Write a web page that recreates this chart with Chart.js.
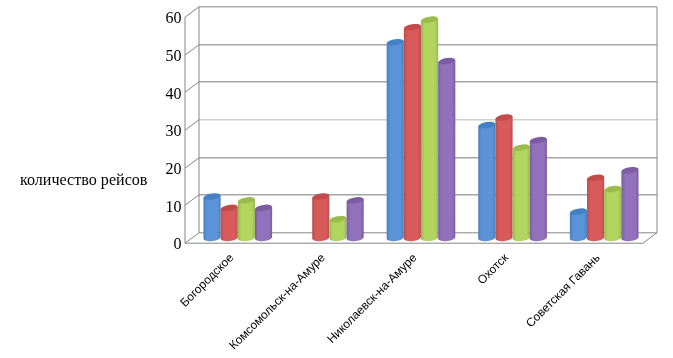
<!DOCTYPE html>
<html>
<head>
<meta charset="utf-8">
<style>
html, body { margin: 0; padding: 0; background: #fff; }
#wrap { width: 673px; height: 358px; }
</style>
<script src="https://cdn.jsdelivr.net/npm/chart.js@4"></script>
</head>
<body>
<div id="wrap"><canvas id="chart" width="673" height="358"></canvas></div>
<script>
const cities = ['Богородское', 'Комсомольск-на-Амуре', 'Николаевск-на-Амуре', 'Охотск', 'Советская Гавань'];
const series1 = [11, null, 52, 30, 7];
const series2 = [8, 11, 56, 32, 16];
const series3 = [10, 5, 58, 24, 13];
const series4 = [8, 10, 47, 26, 18];
const axisTitle = 'количество рейсов';

// body colour, edge colour, cap colour
const blue = ['#5a93d8', '#4a7ebd', '#4480c4'];
const red = ['#d85a5a', '#ba4e4e', '#c24a4a'];
const green = ['#b1d55e', '#98b850', '#9abc4a'];
const purple = ['#9170bc', '#7a5d9e', '#7b5ba2'];

// how far the back wall / front edge sit from the plot area
const dx = 7;
const dy = 5.2;

const walls = {
    id: 'walls',
    beforeDatasetsDraw(chart) {
        const ctx = chart.ctx;
        const y = chart.scales.y;
        const a = chart.chartArea;
        ctx.save();
        ctx.lineWidth = 1;
        y.ticks.forEach(t => {
            const py = Math.round(y.getPixelForValue(t.value));
            // back wall lines
            ctx.strokeStyle = t.value === 0 || t.value === 60 ? '#868686' : '#a6a6a6';
            ctx.lineWidth = t.value === 0 || t.value === 60 ? 1 : 1.6;
            if (t.value === 30) ctx.strokeStyle = '#d0d0d0';
            ctx.beginPath();
            ctx.moveTo(a.left + dx, py - dy);
            ctx.lineTo(a.right + dx, py - dy);
            ctx.stroke();
            // left wall
            ctx.strokeStyle = '#868686';
            ctx.lineWidth = 1;
            ctx.beginPath();
            ctx.moveTo(a.left - dx, py + dy);
            ctx.lineTo(a.left + dx, py - dy);
            ctx.stroke();
        });
        const top = Math.round(y.getPixelForValue(60));
        const zero = Math.round(y.getPixelForValue(0));
        ctx.strokeStyle = '#868686';
        ctx.beginPath();
        // front axis
        ctx.moveTo(a.left - dx, top + dy);
        ctx.lineTo(a.left - dx, zero + dy);
        ctx.lineTo(a.right - dx, zero + dy);
        ctx.lineTo(a.right + dx, zero - dy);
        ctx.lineTo(a.right + dx, top - dy);
        ctx.moveTo(a.left + dx, top - dy);
        ctx.lineTo(a.left + dx, zero - dy);
        ctx.stroke();
        // title is horizontal so it can't be the axis title option
        ctx.fillStyle = '#000';
        ctx.font = '16.1px "Liberation Serif"';
        ctx.textBaseline = 'middle';
        ctx.fillText(axisTitle, 20, 181);
        ctx.restore();
    }
};

const cylinders = {
    id: 'cylinders',
    afterDatasetsDraw(chart) {
        const ctx = chart.ctx;
        chart.data.datasets.forEach((ds, i) => {
            const c = ds.tube;
            chart.getDatasetMeta(i).data.forEach((bar, j) => {
                if (ds.data[j] === null) return;
                const rx = bar.width / 2;
                const left = bar.x - rx;
                const right = bar.x + rx;
                const g = ctx.createLinearGradient(left, 0, right, 0);
                g.addColorStop(0, c[1]);
                g.addColorStop(0.2, c[0]);
                g.addColorStop(0.82, c[0]);
                g.addColorStop(1, c[1]);
                ctx.save();
                ctx.fillStyle = g;
                ctx.beginPath();
                ctx.moveTo(left, bar.y + 1);
                ctx.lineTo(left, bar.base);
                ctx.ellipse(bar.x, bar.base, rx, 3, -0.12, Math.PI, 0, true);
                ctx.lineTo(right, bar.y - 1);
                ctx.closePath();
                ctx.fill();
                ctx.fillStyle = c[2];
                ctx.beginPath();
                ctx.ellipse(bar.x, bar.y, rx, 3, -0.16, 0, Math.PI * 2);
                ctx.fill();
                ctx.restore();
            });
        });
    }
};

function tube(values, colours) {
    return { data: values, tube: colours, backgroundColor: 'transparent', borderWidth: 0 };
}

new Chart(document.getElementById('chart'), {
    type: 'bar',
    data: {
        labels: cities,
        datasets: [tube(series1, blue), tube(series2, red), tube(series3, green), tube(series4, purple)]
    },
    options: {
        responsive: false,
        animation: false,
        layout: { padding: { top: 5, right: 23, left: 0, bottom: 0 } },
        plugins: { legend: { display: false }, tooltip: { enabled: false } },
        datasets: { bar: { barPercentage: 1, categoryPercentage: 0.75 } },
        scales: {
            x: {
                grid: { display: false },
                border: { display: false },
                afterFit(s) { s.height = 120; },
                ticks: {
                    maxRotation: 45,
                    minRotation: 45,
                    autoSkip: false,
                    padding: 5,
                    labelOffset: -6,
                    color: '#000',
                    font: { family: '"Liberation Sans"', size: 11.9 }
                }
            },
            y: {
                min: 0,
                max: 60,
                grid: { display: false },
                border: { display: false },
                afterFit(s) { s.width = 192; },
                ticks: {
                    stepSize: 10,
                    padding: 2.5,
                    labelOffset: 7,
                    color: '#000',
                    font: { family: '"Liberation Serif"', size: 16 }
                }
            }
        }
    },
    plugins: [walls, cylinders]
});
</script>
</body>
</html>
